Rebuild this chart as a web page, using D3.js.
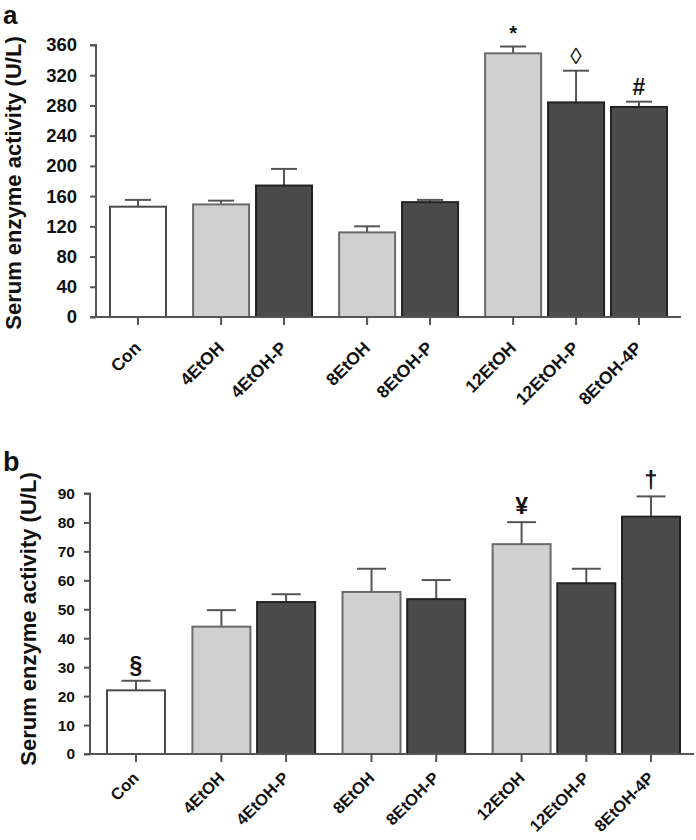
<!DOCTYPE html>
<html>
<head>
<meta charset="utf-8">
<script src="https://cdn.jsdelivr.net/npm/d3@7"></script>
<style>
  html, body { margin: 0; padding: 0; background: #fff; }
  svg { display: block; }
  text { font-family: "Liberation Sans", Arial, Helvetica, sans-serif; }
</style>
</head>
<body>
<script>
// ---------- data ----------
const categories = ["Con", "4EtOH", "4EtOH-P", "8EtOH", "8EtOH-P", "12EtOH", "12EtOH-P", "8EtOH-4P"];
const groupIndex = [0, 1, 1, 2, 2, 3, 3, 3];
const barType = ["control", "ethanol", "treated", "ethanol", "treated", "ethanol", "treated", "treated"];

const valuesA = [146, 149, 174, 112, 152, 349, 284, 278];
const errorsA = [9, 5, 22, 8, 3, 9, 42, 7];
const marksA = ["", "", "", "", "", "*", "\u25CA", "#"];
const ticksA = [0, 40, 80, 120, 160, 200, 240, 280, 320, 360];

const valuesB = [22, 44, 52.5, 56, 53.5, 72.5, 59, 82];
const errorsB = [3.3, 5.7, 2.7, 8, 6.6, 7.6, 5, 7];
const marksB = ["\u00A7", "", "", "", "", "\u00A5", "", "\u2020"];
const ticksB = [0, 10, 20, 30, 40, 50, 60, 70, 80, 90];

const yTitle = "Serum enzyme activity (U/L)";

// ---------- styling ----------
const fills = { control: "#ffffff", ethanol: "#d0d0d0", treated: "#4b4b4b" };
const strokes = { control: "#4a4a4a", ethanol: "#6a6a6a", treated: "#222222" };
const axisColor = "#555";
const gapRatio = 0.32;

const W = 696, H = 840;
const svg = d3.select("body").append("svg").attr("width", W).attr("height", H);

function panel(cfg) {
  const g = svg.append("g");
  const pos = categories.map((c, i) => i + groupIndex[i] * gapRatio);
  const x = d3.scaleLinear().domain([0, d3.max(pos)]).range([cfg.xFirst, cfg.xLast]);
  const y = d3.scaleLinear().domain([0, cfg.yMax]).range([cfg.yBottom, cfg.yTop]);

  const data = categories.map((c, i) => ({ c, i, p: pos[i], v: cfg.values[i], e: cfg.errors[i], t: barType[i], m: cfg.marks[i] }));

  // error bars
  const eb = g.append("g");
  eb.selectAll("line.v").data(data).join("line")
    .attr("x1", d => x(d.p)).attr("x2", d => x(d.p))
    .attr("y1", d => y(d.v)).attr("y2", d => y(d.v + d.e))
    .attr("stroke", axisColor).attr("stroke-width", 2);
  eb.selectAll("line.c").data(data).join("line")
    .attr("x1", d => x(d.p) - cfg.cap / 2).attr("x2", d => x(d.p) + cfg.cap / 2)
    .attr("y1", d => y(d.v + d.e)).attr("y2", d => y(d.v + d.e))
    .attr("stroke", axisColor).attr("stroke-width", 2);

  // bars
  g.append("g").selectAll("rect").data(data).join("rect")
    .attr("x", d => x(d.p) - cfg.bw / 2)
    .attr("width", cfg.bw)
    .attr("y", d => y(d.v))
    .attr("height", d => y(0) - y(d.v))
    .attr("fill", d => fills[d.t])
    .attr("stroke", d => strokes[d.t])
    .attr("stroke-width", 2);

  // annotations
  g.append("g").selectAll("text").data(data.filter(d => d.m)).join("text")
    .attr("x", d => x(d.p))
    .attr("y", d => y(d.v + d.e) - cfg.markGap)
    .attr("text-anchor", "middle")
    .attr("font-size", d => d.m === "*" ? 20 : 23)
    .attr("font-weight", d => d.m === "\u25CA" ? "normal" : "bold")
    .attr("fill", "#111")
    .text(d => d.m);

  // y axis
  const ya = g.append("g").attr("transform", `translate(${cfg.xAxis},0)`)
    .call(d3.axisLeft(y).tickValues(cfg.ticks).tickSize(6).tickPadding(cfg.tickPad).tickFormat(d3.format("d")));
  ya.select(".domain").attr("stroke", axisColor).attr("stroke-width", 2)
    .attr("d", `M-6,${y(cfg.yMax)}H0V${y(0)}`);
  ya.selectAll(".tick line").attr("stroke", axisColor).attr("stroke-width", 2);
  ya.selectAll(".tick text").attr("font-size", cfg.tickFont).attr("font-weight", "bold").attr("fill", "#111")
    .attr("font-family", '"Liberation Sans", Arial, sans-serif');

  // x axis
  const xa = g.append("g").attr("transform", `translate(0,${cfg.yBottom})`);
  xa.append("line").attr("x1", cfg.xAxis - 6).attr("x2", cfg.xEnd).attr("y1", 0).attr("y2", 0)
    .attr("stroke", axisColor).attr("stroke-width", 2);
  xa.selectAll("line.t").data(data).join("line").attr("class", "t")
    .attr("x1", d => x(d.p)).attr("x2", d => x(d.p)).attr("y1", 0).attr("y2", 8)
    .attr("stroke", axisColor).attr("stroke-width", 2);
  xa.selectAll("text").data(data).join("text")
    .attr("transform", d => `translate(${x(d.p) + 4},${cfg.labelDy}) rotate(-45)`)
    .attr("text-anchor", "end")
    .attr("font-size", cfg.labelFont).attr("font-weight", "bold").attr("fill", "#111")
    .text(d => d.c);

  // y title
  g.append("text")
    .attr("transform", `translate(${cfg.titleX},${cfg.titleY}) rotate(-90)`)
    .attr("text-anchor", "middle")
    .attr("font-size", 22).attr("font-weight", "bold").attr("fill", "#111")
    .text(yTitle);

  // panel letter
  g.append("text").attr("x", 3).attr("y", cfg.letterY)
    .attr("font-size", cfg.letterFont).attr("font-weight", "bold").attr("fill", "#111")
    .text(cfg.letter);
}

panel({
  letter: "a", letterY: 24, letterFont: 26,
  values: valuesA, errors: errorsA, marks: marksA, ticks: ticksA, yMax: 360,
  yTop: 45, yBottom: 317, xAxis: 96, xEnd: 681, xFirst: 138, xLast: 639,
  bw: 56, cap: 26, markGap: 7, tickFont: 18.5, tickPad: 13, labelDy: 32, labelFont: 17.5,
  titleX: 21, titleY: 183
});

panel({
  letter: "b", letterY: 471, letterFont: 27,
  values: valuesB, errors: errorsB, marks: marksB, ticks: ticksB, yMax: 90,
  yTop: 493.5, yBottom: 754, xAxis: 90, xEnd: 694, xFirst: 136, xLast: 651,
  bw: 58, cap: 29, markGap: 8, tickFont: 15.5, tickPad: 9, labelDy: 25, labelFont: 16.5,
  titleX: 36, titleY: 619
});
</script>
</body>
</html>
